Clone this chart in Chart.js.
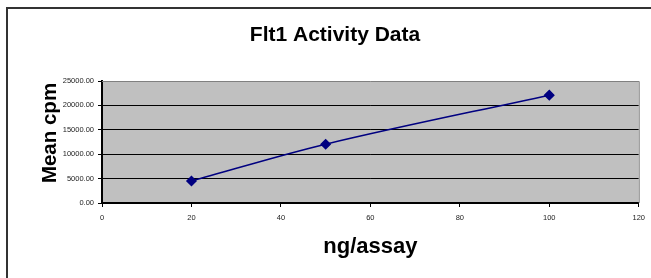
<!DOCTYPE html>
<html>
<head>
<meta charset="utf-8">
<script src="https://cdn.jsdelivr.net/npm/chart.js@4/dist/chart.umd.min.js"></script>
<style>
html,body{margin:0;padding:0;background:#fff;}
#wrap{width:651px;height:278px;position:relative;}
</style>
</head>
<body>
<div id="wrap"><canvas id="c" width="651" height="278"></canvas></div>
<script>
const xValues = [20, 50, 100];
const meanCpm = [4500, 12050, 22100];
const xTicks = [0, 20, 40, 60, 80, 100, 120];
const yTicks = [0, 5000, 10000, 15000, 20000, 25000];
const chartTitle = 'Flt1 Activity Data';
const xTitle = 'ng/assay';
const yTitle = 'Mean cpm';

const FONT = 'Arial, "Liberation Sans", sans-serif';

const decor = {
  id: 'decor',
  beforeDraw(chart) {
    const {ctx, chartArea: a} = chart;
    ctx.save();
    ctx.fillStyle = '#c0c0c0';
    ctx.fillRect(a.left, a.top, a.right - a.left, a.bottom - a.top);
    ctx.restore();
  },
  afterDraw(chart) {
    const {ctx, chartArea: a} = chart;
    ctx.save();
    ctx.strokeStyle = '#808080';
    ctx.lineWidth = 1;
    ctx.beginPath();
    ctx.moveTo(a.left, a.top + 0.5);
    ctx.lineTo(a.right + 0.5, a.top + 0.5);
    ctx.lineTo(a.right + 0.5, a.bottom);
    ctx.stroke();
    ctx.strokeStyle = '#333';
    ctx.lineWidth = 2;
    ctx.beginPath();
    ctx.moveTo(651, 8);
    ctx.lineTo(7, 8);
    ctx.lineTo(7, 278);
    ctx.stroke();
    // y-axis title
    ctx.fillStyle = '#000';
    ctx.font = 'bold 20.5px ' + FONT;
    ctx.textAlign = 'center';
    ctx.textBaseline = 'middle';
    ctx.translate(50, 133);
    ctx.rotate(-Math.PI / 2);
    ctx.fillText(yTitle, 0, 0);
    ctx.restore();
  }
};

new Chart(document.getElementById('c'), {
  type: 'scatter',
  data: {
    datasets: [{
      data: xValues.map((x, i) => ({x, y: meanCpm[i]})),
      showLine: true,
      borderColor: '#000080',
      backgroundColor: '#000080',
      borderWidth: 1.5,
      tension: 0.35,
      pointStyle: 'rectRot',
      pointRadius: 4.5,
      pointHoverRadius: 4.5
    }]
  },
  options: {
    responsive: false,
    animation: false,
    events: [],
    layout: {padding: {left: 29, right: 10, top: 0, bottom: 0}},
    plugins: {
      legend: {display: false},
      tooltip: {enabled: false},
      title: {
        display: true,
        text: chartTitle,
        color: '#000',
        font: {family: FONT, size: 21, weight: 'bold'},
        padding: {top: 22.5, bottom: 33.3}
      }
    },
    scales: {
      x: {
        type: 'linear',
        min: 0, max: 120,
        afterBuildTicks: s => { s.ticks = xTicks.map(v => ({value: v})); },
        afterFit: s => { s.height = 75; },
        ticks: {
          color: '#222',
          font: {family: FONT, size: 7.5},
          padding: 6,
          maxRotation: 0
        },
        grid: {
          drawOnChartArea: false,
          tickLength: 4,
          tickColor: '#000'
        },
        border: {color: '#000', width: 2},
        title: {
          display: true,
          text: xTitle,
          color: '#000',
          font: {family: FONT, size: 22, weight: 'bold'},
          padding: {top: 0, bottom: 18.3}
        }
      },
      y: {
        type: 'linear',
        min: 0, max: 25000,
        afterBuildTicks: s => { s.ticks = yTicks.map(v => ({value: v})); },
        afterFit: s => { s.width = 73; },
        ticks: {
          color: '#222',
          font: {family: FONT, size: 7.5},
          padding: 4,
          callback: v => Number(v).toFixed(2)
        },
        grid: {
          color: ctx => (ctx.tick && (ctx.tick.value === 0 || ctx.tick.value === 25000)) ? 'rgba(0,0,0,0)' : '#000',
          lineWidth: 1,
          tickLength: 4,
          tickColor: '#000'
        },
        border: {color: '#000', width: 2},
        title: {display: false, text: yTitle}
      }
    }
  },
  plugins: [decor]
});
</script>
</body>
</html>
